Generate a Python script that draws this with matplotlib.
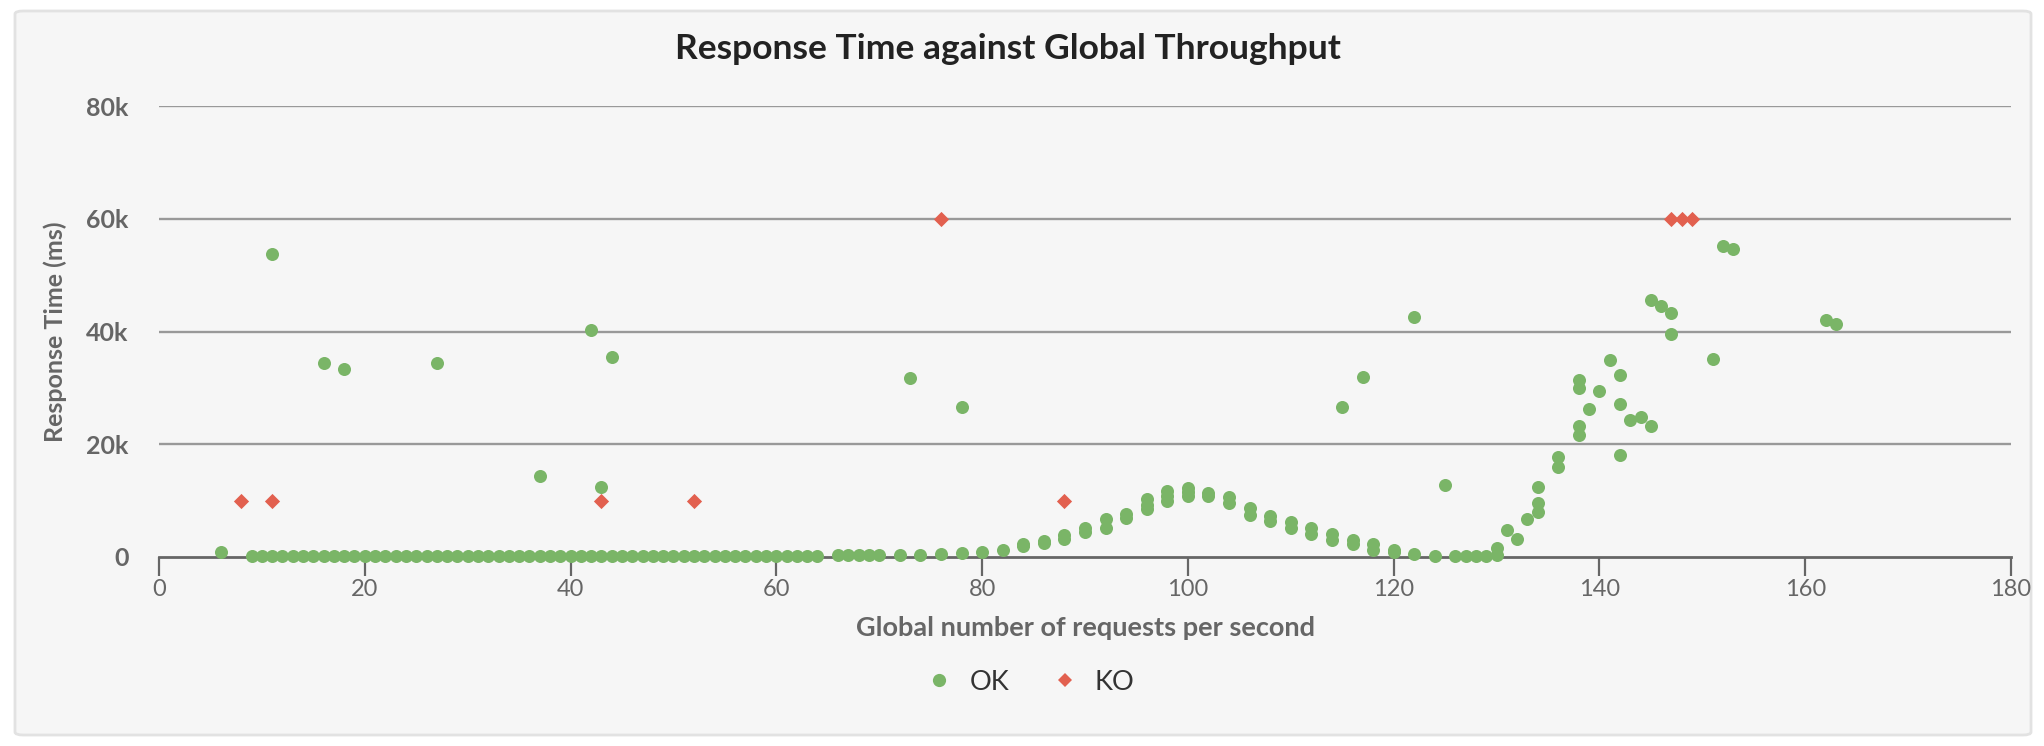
import matplotlib
matplotlib.use('Agg')
import matplotlib.pyplot as plt
from matplotlib.patches import FancyBboxPatch
from matplotlib.lines import Line2D

# Data (requests/s, response time ms)
ok_rps = [6,
          9, 10, 11, 12, 13, 14, 15, 16, 17, 18, 19, 20, 21, 22, 23, 24, 25, 26, 27,
          28, 29, 30, 31, 32, 33, 34, 35, 36, 37, 38, 39, 40, 41, 42, 43, 44, 45, 46,
          47, 48, 49, 50, 51, 52, 53, 54, 55, 56, 57, 58, 59, 60, 61, 62, 63, 64,
          66, 67, 68, 69, 70, 72, 74, 76, 78, 80, 82,
          84, 84, 86, 86, 88, 88, 90, 90, 92, 92, 94, 94, 96, 96, 96,
          98, 98, 98, 100, 100, 100, 102, 102, 104, 104, 106, 106, 108, 108,
          110, 110, 112, 112, 114, 114, 116, 116, 118, 118, 120, 120,
          122, 124, 126, 127, 128, 129, 130, 130, 131, 132, 133, 134, 134, 134,
          136, 136, 138, 138, 138, 138, 139, 140, 141, 142, 142, 142, 143, 144,
          145, 145, 146, 147, 147, 151, 152, 153, 162, 163,
          11, 16, 18, 27, 37, 42, 43, 44, 73, 78, 115, 117, 122, 125]
ok_ms = [800,
         200, 200, 200, 200, 200, 200, 200, 200, 200, 200, 200, 200, 200, 200, 200, 200, 200, 200, 200,
         200, 200, 200, 200, 200, 200, 200, 200, 200, 200, 200, 200, 200, 200, 200, 200, 200, 200, 200,
         200, 200, 200, 200, 200, 200, 200, 200, 200, 200, 200, 200, 200, 200, 200, 200, 200, 200,
         300, 300, 300, 300, 300, 350, 420, 450, 680, 950, 1250,
         1900, 2300, 2400, 2900, 3250, 3950, 4400, 5100, 5200, 6700, 7000, 7600, 8500, 9300, 10200,
         10000, 10800, 11700, 10800, 11600, 12200, 10800, 11300, 9500, 10700, 7500, 8700, 6400, 7300,
         5100, 6200, 4100, 5100, 3000, 4100, 2250, 3100, 1300, 2250, 800, 1300,
         550, 200, 200, 200, 200, 200, 300, 1600, 4850, 3200, 6800, 7900, 9600, 12500,
         16000, 17700, 21700, 23200, 29900, 31400, 26200, 29500, 34900, 18100, 27200, 32200, 24300, 24900,
         23200, 45500, 44500, 39600, 43200, 35200, 55200, 54600, 42000, 41400,
         53800, 34500, 33400, 34400, 14300, 40300, 12400, 35500, 31800, 26600, 26600, 32000, 42600, 12700]

ko_rps = [8, 11, 43, 52, 76, 88, 147, 148, 149]
ko_ms = [10000, 10000, 10000, 10000, 60000, 10000, 60000, 60000, 60000]

y_ticks = [0, 20000, 40000, 60000, 80000]
y_labels = ['0', '20k', '40k', '60k', '80k']
x_ticks = [0, 20, 40, 60, 80, 100, 120, 140, 160, 180]

ok_color = '#7ab567'
ko_color = '#e2604f'
text_grey = '#666666'

plt.rcParams['font.family'] = ['Lato', 'DejaVu Sans']

fig = plt.figure(figsize=(20.44, 7.46), dpi=100, facecolor='white')

# chart box behind everything
box = FancyBboxPatch((15 / 2044, 11 / 746), 2016 / 2044, 724 / 746,
                     boxstyle='round,pad=0,rounding_size=0.004',
                     transform=fig.transFigure, facecolor='#f6f6f6',
                     edgecolor='#e2e2e2', linewidth=2, zorder=-5)
fig.patches.append(box)

ax = fig.add_axes([159 / 2044, 1 - 557 / 746, 1852 / 2044, 451 / 746])
ax.set_zorder(2)
ax.set_facecolor('none')

ax.scatter(ok_rps, ok_ms, s=88, color=ok_color, marker='o', linewidths=0,
           clip_on=False, zorder=4)
ax.scatter(ko_rps, ko_ms, s=60, color=ko_color, marker='D', linewidths=0,
           clip_on=False, zorder=4)

ax.set_xlim(0, 180)
ax.set_ylim(0, 80000)
ax.set_xticks(x_ticks)
ax.set_yticks(y_ticks)
ax.set_yticklabels(y_labels)

for v in y_ticks[1:]:
    ax.axhline(v, color='#999999', linewidth=1.7, zorder=1)

for side in ['top', 'right', 'left']:
    ax.spines[side].set_visible(False)
ax.spines['bottom'].set_color(text_grey)
ax.spines['bottom'].set_linewidth(2)
ax.spines['bottom'].set_zorder(2)

ax.tick_params(axis='x', direction='out', length=13.5, width=1.6, color=text_grey,
               labelsize=17, labelcolor=text_grey, pad=2)
ax.tick_params(axis='y', length=0, labelsize=18, labelcolor=text_grey, pad=22)
for lab in ax.get_yticklabels():
    lab.set_fontweight('bold')

ax.set_xlabel('Global number of requests per second', fontsize=19.5, fontweight='bold',
              color=text_grey, labelpad=12)
ax.set_ylabel('Response Time (ms)', fontsize=18, fontweight='bold',
              color=text_grey, labelpad=14)

fig.text(1008 / 2044, 1 - 49 / 746, 'Response Time against Global Throughput',
         ha='center', va='center', fontsize=25.5, fontweight='bold', color='#222222')

handles = [Line2D([], [], linestyle='none', marker='o', markersize=9.5,
                  markerfacecolor=ok_color, markeredgewidth=0),
           Line2D([], [], linestyle='none', marker='D', markersize=7.5,
                  markerfacecolor=ko_color, markeredgewidth=0)]
leg = fig.legend(handles, ['OK', 'KO'], loc='center', ncol=2,
                 bbox_to_anchor=(1030 / 2044, 1 - 682 / 746), frameon=False,
                 fontsize=19.5, handletextpad=0.6, columnspacing=1.55,
                 handlelength=1.0, labelcolor='#333333')

fig.savefig('out.png', dpi=100, facecolor='white')
